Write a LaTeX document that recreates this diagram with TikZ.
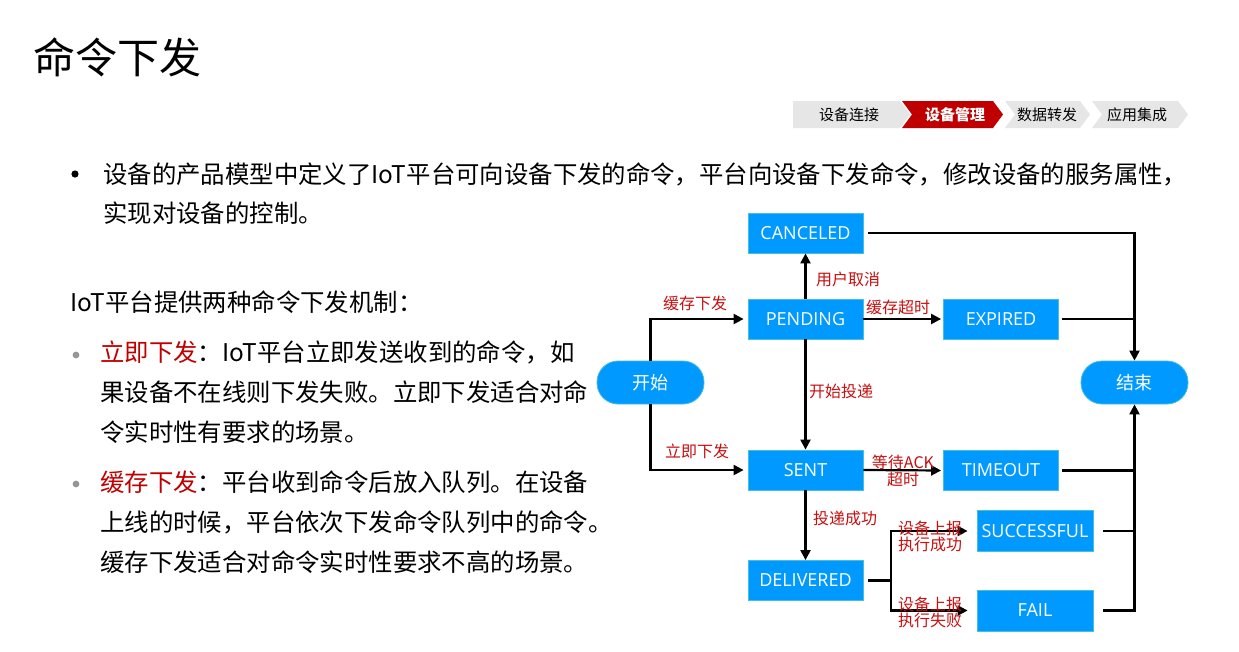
\documentclass[tikz,border=0pt]{standalone}
\usepackage{fontspec}
\setmainfont{Noto Sans CJK SC}
\newfontfamily\latinf{Open Sans}
\usetikzlibrary{arrows.meta}
\definecolor{boxblue}{RGB}{0,153,255}
\definecolor{boxedge}{RGB}{70,190,220}
\definecolor{lblred}{RGB}{200,16,16}
\definecolor{crumbgray}{RGB}{230,230,230}
\definecolor{crumbred}{RGB}{192,0,0}
\definecolor{bulletgray}{RGB}{150,150,150}
\begin{document}
\begin{tikzpicture}[x=1pt,y=-1pt,
 state/.style={draw=boxedge, line width=0.8pt, fill=boxblue, text=white, minimum width=115pt, minimum height=40pt, inner sep=0pt, font=\latinf\fontsize{18}{20}\selectfont},
 term/.style={state, minimum width=107pt, minimum height=43pt, rounded corners=21pt, font=\fontsize{18}{20}\selectfont},
 conn/.style={line width=2.2pt, draw=black},
 arr/.style={conn, -{Triangle[length=10pt,width=10pt]}},
 lbl/.style={text=lblred, font=\fontsize{16}{18}\selectfont, inner sep=0pt, align=center},
 body/.style={anchor=west, inner sep=0pt, font=\fontsize{24.4}{28}\selectfont},
 crumb/.style={inner sep=0pt, font=\fontsize{15}{17}\selectfont},
]
\useasboundingbox[fill=white] (0,0) rectangle (1239,651);

% title
\node[anchor=west, inner sep=0pt, font=\fontsize{42}{50}\selectfont] (title) at (33,57) {命令下发};

% breadcrumb
\fill[crumbgray] (793,101) -- (900,101) -- (910,114.5) -- (900,128) -- (793,128) -- cycle;
\fill[crumbred] (902,101) -- (993,101) -- (1003,114.5) -- (993,128) -- (902,128) -- (912,114.5) -- cycle;
\fill[crumbgray] (1005,101) -- (1080,101) -- (1090,114.5) -- (1080,128) -- (1005,128) -- (1015,114.5) -- cycle;
\fill[crumbgray] (1092,101) -- (1178,101) -- (1188,114.5) -- (1178,128) -- (1092,128) -- (1102,114.5) -- cycle;
\node[crumb] (c1) at (849,114.5) {设备连接};
\node[crumb, text=white, font=\bfseries\fontsize{15}{17}\selectfont] (c2) at (955,114.5) {设备管理};
\node[crumb] (c3) at (1047,114.5) {数据转发};
\node[crumb] (c4) at (1137,114.5) {应用集成};

% body text
\fill[black] (75,174) circle (3.6pt);
\node[body] (t1) at (103,174) {设备的产品模型中定义了IoT平台可向设备下发的命令，平台向设备下发命令，修改设备的服务属性，};
\node[body] (t2) at (103,213) {实现对设备的控制。};
\node[body] (t3) at (70,302) {IoT平台提供两种命令下发机制：};
\fill[bulletgray] (76,355) circle (3.4pt);
\node[body] (t4) at (100,352) {\textcolor{crumbred}{立即下发}：IoT平台立即发送收到的命令，如};
\node[body] (t5) at (100,392) {果设备不在线则下发失败。立即下发适合对命};
\node[body] (t6) at (100,432) {令实时性有要求的场景。};
\fill[bulletgray] (76,484) circle (3.4pt);
\node[body] (t7) at (100,482) {\textcolor{crumbred}{缓存下发}：平台收到命令后放入队列。在设备};
\node[body] (t8) at (100,522) {上线的时候，平台依次下发命令队列中的命令。};
\node[body] (t9) at (100,562) {缓存下发适合对命令实时性要求不高的场景。};

% states
\node[state] (canceled) at (805.5,233) {CANCELED};
\node[state] (pending) at (805.5,319) {PENDING};
\node[state] (expired) at (1001,319) {EXPIRED};
\node[state] (sent) at (805.5,470) {SENT};
\node[state] (timeout) at (1001,470.5) {TIMEOUT};
\node[state, minimum width=116pt, minimum height=41pt] (successful) at (1035,531) {SUCCESSFUL};
\node[state, minimum width=116pt, minimum height=41pt] (fail) at (1035,610.5) {FAIL};
\node[state] (delivered) at (805.5,580.5) {DELIVERED};
\node[term] (start) at (650.5,382.5) {开始};
\node[term] (end) at (1134.5,382.5) {结束};

% connectors
\draw[arr, shorten >=4pt] (start.north) |- (pending.west);
\draw[arr, shorten >=4pt] (start.south) |- (sent.west);
\draw[arr] (pending.north) -- (canceled.south);
\draw[arr, shorten >=2pt] (pending.east) -- (expired.west);
\draw[arr] (pending.south) -- (sent.north);
\draw[arr, shorten >=2pt] (sent.east) -- (timeout.west);
\draw[arr] (sent.south) -- (delivered.north);
\coordinate (dj) at (891,580.5);
\draw[conn] ([xshift=5pt]delivered.east) -- (dj);
\draw[arr, shorten >=9pt] (dj) |- (successful.west);
\draw[arr, shorten >=9pt] (dj) |- (fail.west);
\draw[arr] ([xshift=5pt]canceled.east) -| (end.north);
\draw[conn] ([xshift=3pt]expired.east) -- (expired.east -| end.north);
\draw[conn] ([xshift=3pt]timeout.east) -- (timeout.east -| end.south);
\draw[conn] ([xshift=10pt]successful.east) -- (successful.east -| end.south);
\draw[arr] ([xshift=10pt]fail.east) -| (end.south);

% labels
\node[lbl] (l1) at (695,303) {缓存下发};
\node[lbl] (l2) at (697,451) {立即下发};
\node[lbl] (l3) at (848,279) {用户取消};
\node[lbl] (l4) at (898,307) {缓存超时};
\node[lbl] (l5) at (841,391) {开始投递};
\node[lbl] (l6) at (903,471) {等待ACK\\[-1pt]超时};
\node[lbl] (l7) at (845,518) {投递成功};
\node[lbl] (l8) at (930,536) {设备上报\\[-2pt]执行成功};
\node[lbl] (l9) at (930,612) {设备上报\\[-2pt]执行失败};
\end{tikzpicture}
\end{document}
